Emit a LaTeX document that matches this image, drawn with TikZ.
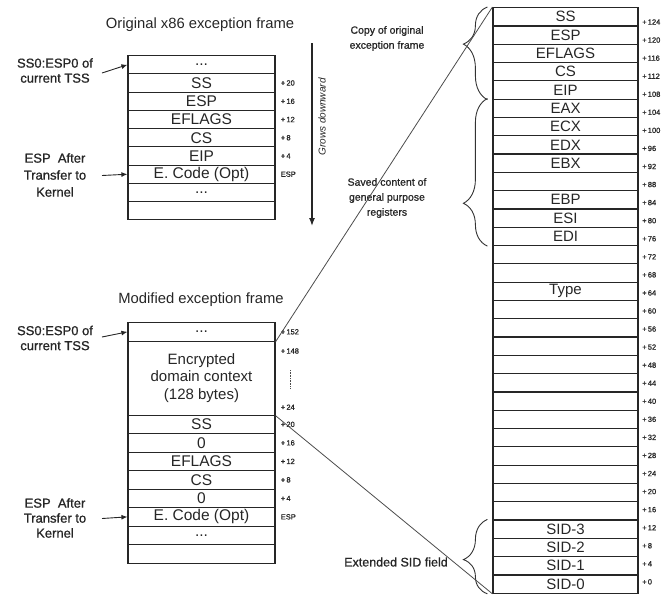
\documentclass[tikz,border=0pt]{standalone}
\usepackage{fontspec}
\setmainfont{Liberation Sans}
\newfontfamily\heavyfont[FakeBold=0.9]{Liberation Sans}
\usetikzlibrary{arrows.meta,decorations.pathreplacing}
\begin{document}
\begin{tikzpicture}[x=1pt,y=-1pt,
  lcell/.style={draw=black!85, line width=1.2pt, minimum width=147pt, minimum height=18.25pt,
    inner sep=0pt, anchor=north, text=black!85, font=\fontsize{15.5}{15.5}\selectfont},
  bcell/.style={lcell, minimum height=18.5pt},
  rcell/.style={draw=black!85, line width=1.2pt, minimum width=145pt, minimum height=18.3pt,
    inner sep=0pt, anchor=north, text=black!85, font=\fontsize{15}{15}\selectfont},
  offs/.style={anchor=west, inner sep=0pt, text=black!85, font=\heavyfont\fontsize{7.5}{8}\selectfont},
  side/.style={align=center, inner sep=0pt, text=black!85, font=\heavyfont\fontsize{13}{15}\selectfont},
  note/.style={align=center, inner sep=0pt, text=black!85, font=\heavyfont\fontsize{10.5}{15}\selectfont},
  ttl/.style={inner sep=0pt, text=black!85, font=\fontsize{14.8}{16}\selectfont},
  arr/.style={draw=black!85, line width=0.9pt, -{Latex[length=6pt,width=5pt]}},
  diag/.style={draw=black!70, line width=0.8pt},
  brc/.style={draw=black!80, line width=0.9pt, decorate}
]
\useasboundingbox (0,0) rectangle (666,598);

% ---------- original frame ----------
\node[ttl] (title1) at (200,25) {Original x86 exception frame};
\node[lcell] (t0) at (201.5,55) {...};
\node[lcell] (t1) at (201.5,73.25) {SS};
\node[lcell] (t2) at (201.5,91.5) {ESP};
\node[lcell] (t3) at (201.5,109.75) {EFLAGS};
\node[lcell] (t4) at (201.5,128) {CS};
\node[lcell] (t5) at (201.5,146.25) {EIP};
\node[lcell] (t6) at (201.5,164.5) {E. Code (Opt)};
\node[lcell] (t7) at (201.5,182.75) {...};
\node[lcell] (t8) at (201.5,201) {};

\node[offs] (o1) at ([xshift=5pt]t1.east) {+\,20};
\node[offs] (o2) at ([xshift=5pt]t2.east) {+\,16};
\node[offs] (o3) at ([xshift=5pt]t3.east) {+\,12};
\node[offs] (o4) at ([xshift=5pt]t4.east) {+\,8};
\node[offs] (o5) at ([xshift=5pt]t5.east) {+\,4};
\node[offs] (o6) at ([xshift=5pt]t6.east) {ESP};

\node[side] (s1) at (55,70.5) {SS0:ESP0 of\\current TSS};
\coordinate (s1a) at (102,73);
\draw[arr] (s1a) -- (t0.west);
\node[side, font=\heavyfont\fontsize{13}{17}\selectfont] (s2) at (55,175) {ESP\ \ After\\Transfer to\\Kernel};
\coordinate (s2a) at (102,175.5);
\draw[arr] (s2a) -- (t6.west);

\coordinate (g1) at (312,43);
\coordinate (g2) at (312,226);
\draw[draw=black!85, line width=1.3pt, -{Latex[length=8pt,width=6pt]}] (g1) -- (g2);
\node[rotate=90, inner sep=0pt, text=black!85, font=\itshape\fontsize{10}{10}\selectfont] (grow) at (322,117) {Grows downward};

% ---------- modified frame ----------
\node[ttl] (title2) at (201,300) {Modified exception frame};
\node[bcell] (b0) at (201.5,322) {...};
\node[bcell, minimum height=74pt, align=center, font=\fontsize{15}{17.5}\selectfont] (b1) at (201.5,340.5) {Encrypted\\domain context\\(128 bytes)};
\node[bcell] (b2) at (201.5,414.5) {SS};
\node[bcell] (b3) at (201.5,433) {0};
\node[bcell] (b4) at (201.5,451.5) {EFLAGS};
\node[bcell] (b5) at (201.5,470) {CS};
\node[bcell] (b6) at (201.5,488.5) {0};
\node[bcell] (b7) at (201.5,507) {E. Code (Opt)};
\node[bcell] (b8) at (201.5,525.5) {...};
\node[bcell] (b9) at (201.5,544) {};

\node[offs] (p0) at ([xshift=5pt]b0.east) {+\,152};
\node[offs] (p1) at ([xshift=5pt,yshift=-10.5pt]b1.north east) {+\,148};
\node[offs] (p2) at ([xshift=5pt,yshift=8.5pt]b1.south east) {+\,24};
\draw[black!70, line width=0.6pt, densely dotted] (290,370) -- (290,388);
\node[offs] (p3) at ([xshift=5pt]b2.east) {+\,20};
\node[offs] (p4) at ([xshift=5pt]b3.east) {+\,16};
\node[offs] (p5) at ([xshift=5pt]b4.east) {+\,12};
\node[offs] (p6) at ([xshift=5pt]b5.east) {+\,8};
\node[offs] (p7) at ([xshift=5pt]b6.east) {+\,4};
\node[offs] (p8) at ([xshift=5pt]b7.east) {ESP};

\node[side] (s3) at (55,338) {SS0:ESP0 of\\current TSS};
\coordinate (s3a) at (102,337);
\draw[arr] (s3a) -- (b0.west);
\node[side] (s4) at (55,518) {ESP\ \ After\\Transfer to\\Kernel};
\coordinate (s4a) at (102,518.5);
\draw[arr] (s4a) -- (b7.west);

% ---------- right column ----------
\foreach \lab [count=\i from 0] in {SS,ESP,EFLAGS,CS,EIP,EAX,ECX,EDX,EBX,{},EBP,ESI,EDI,{},{},Type,{},{},{},{},{},{},{},{},{},{},{},{},SID-3,SID-2,SID-1,SID-0}{
  \node[rcell] (r\i) at (565.5,7+18.3*\i) {\lab};
  \pgfmathtruncatemacro{\off}{124-4*\i}
  \node[offs] (q\i) at (642,22+18.06*\i) {+\,\off};
}

\draw[brc, decoration={brace, amplitude=24pt, aspect=0.6}] ([xshift=-5pt]r4.south west) -- ([xshift=-5pt]r0.north west);
\draw[brc, decoration={brace, amplitude=24pt, aspect=0.29}] ([xshift=-5pt]r12.south west) -- ([xshift=-5pt]r5.north west);
\draw[brc, decoration={brace, amplitude=24pt, aspect=0.46}] ([xshift=-5pt]r31.south west) -- ([xshift=-5pt]r28.north west);

\node[note] (n1) at (387,38.5) {Copy of original\\exception frame};
\node[note] (n2) at (387,198) {Saved content of\\general purpose\\registers};
\node[note, font=\heavyfont\fontsize{12.5}{15}\selectfont] (n3) at (396,562) {Extended SID field};

\draw[diag] (r0.north west) -- (b0.south east);
\draw[diag] (b1.south east) -- (r31.south west);
\end{tikzpicture}
\end{document}
